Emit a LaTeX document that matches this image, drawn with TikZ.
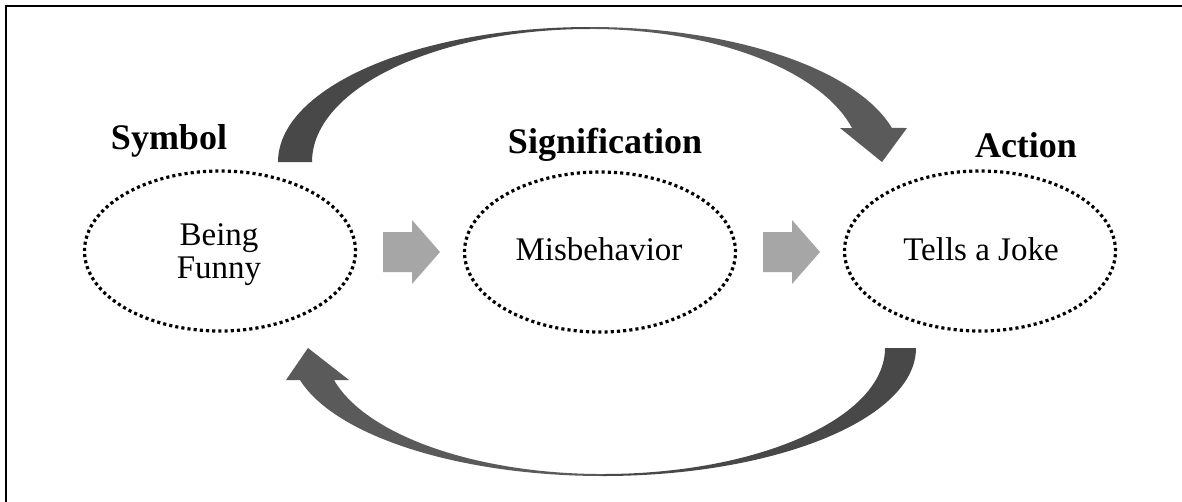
\documentclass[tikz,border=0pt]{standalone}
\usepackage{fontspec}
\setmainfont{Liberation Serif}
\usetikzlibrary{shapes.geometric}
\definecolor{arcdark}{HTML}{484848}
\definecolor{arclight}{HTML}{5A5A5A}
\definecolor{blockgray}{HTML}{A6A6A6}
\begin{document}
\begin{tikzpicture}[x=1pt,y=-1pt,
  stage/.style={ellipse, draw=black, line width=3.2pt,
    dash pattern=on 3.1pt off 3.1pt,
    minimum width=271pt, minimum height=160pt, inner sep=0pt},
  heading/.style={font=\fontsize{36}{40}\selectfont\bfseries, anchor=base, inner sep=0pt},
  body/.style={font=\fontsize{33}{36}\selectfont, anchor=base, inner sep=0pt},
  blockarrow/.style={fill=blockgray},
  backface/.style={fill=arcdark},
  frontface/.style={fill=arclight}]

\useasboundingbox (0,0) rectangle (1182,501);
\clip (0,0) rectangle (1182,501);

% frame (open at right and bottom)
\draw[line width=2.3pt] (6,520) -- (6,6) -- (1200,6);

% the three stages
\node[stage] (e1) at (220,251) {};
\node[stage] (e2) at (600,252) {};
\node[stage] (e3) at (980,251) {};

\node[body] (t1a) at (219,245) {Being};
\node[body] (t1b) at (219,278) {Funny};
\node[body] (t2) at (599,260) {Misbehavior};
\node[body] (t3) at (981,260) {Tells a Joke};

% headings
\node[heading] (h1) at (169,149) {Symbol};
\node[heading] (h2) at (605,153) {Signification};
\node[heading] (h3) at (1026,157) {Action};

% block arrows between the stages
\fill[blockarrow] (383,232) -- (412,232) -- (412,220) -- (440,252) -- (412,284) -- (412,272) -- (383,272) -- cycle;
\fill[blockarrow] (763,232) -- (792,232) -- (792,220) -- (820,252) -- (792,284) -- (792,272) -- (763,272) -- cycle;

% upper curved arrow: Symbol -> Action
\fill[backface] (278,162) arc[start angle=180, end angle=270, x radius=312, y radius=135]
  -- (590,29) arc[start angle=270, end angle=180, x radius=278, y radius=133] -- cycle;
\fill[frontface] (590,27) arc[start angle=270, end angle=345.4, x radius=312, y radius=135]
  -- (907,128) -- (882,162) -- (840,128) -- (852,128)
  arc[start angle=345.2, end angle=270, x radius=271, y radius=133] -- cycle;

% lower curved arrow: Action -> Symbol
\fill[backface] (916,348) arc[start angle=0, end angle=90, x radius=313, y radius=128]
  -- (603,474) arc[start angle=90, end angle=0, x radius=282, y radius=126] -- cycle;
\fill[frontface] (603,476) arc[start angle=90, end angle=165.5, x radius=313, y radius=128]
  -- (286,380) -- (308,348) -- (349,380) -- (334,380)
  arc[start angle=165.3, end angle=90, x radius=278, y radius=126] -- cycle;

\end{tikzpicture}
\end{document}
